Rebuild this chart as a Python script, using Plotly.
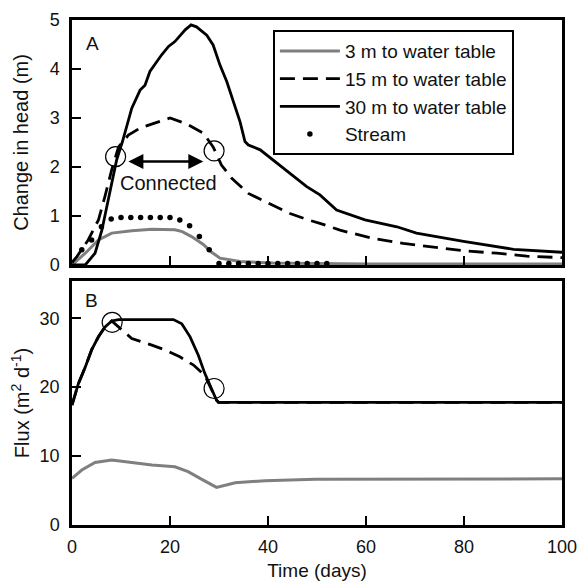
import plotly.graph_objects as go

# ---------------- data ----------------
# Panel A: change in head (m)
days_3m = [0, 2.7, 5.4, 8.1, 12.2, 16.3, 21.0, 22.5, 24.4, 26.8, 28.5, 30.2, 34.3, 41, 50, 60, 100]
head_3m = [0, 0.24, 0.51, 0.65, 0.70, 0.73, 0.72, 0.68, 0.58, 0.42, 0.26, 0.14, 0.07, 0.04, 0.03, 0.02, 0.02]

days_15m = [0, 1, 3.3, 5.4, 6.7, 8.1, 9.5, 11.5, 14.0, 16.9, 20.0, 23.4, 26.8, 28.8, 30.5, 32.6,
            36.0, 38.7, 42.1, 44.5, 48.2, 50.6, 54.7, 61.5, 67.6, 73.7, 79.9, 86.7, 92.8, 100]
head_15m = [0.05, 0.17, 0.51, 0.92, 1.39, 1.94, 2.41, 2.65, 2.8, 2.9, 3.0, 2.88, 2.69, 2.41, 2.04, 1.77,
            1.46, 1.33, 1.16, 1.05, 0.92, 0.85, 0.71, 0.54, 0.44, 0.36, 0.29, 0.24, 0.18, 0.15]

days_30m = [0, 2.7, 4.7, 6.1, 7.1, 8.1, 9.1, 10.3, 11.2, 12.2, 13.9, 14.9, 15.9, 18.3, 19.7, 21.0,
            23.1, 24.3, 25.4, 27.5, 28.8, 30.2, 31.6, 32.9, 34.3, 35.3, 36.0, 38.4, 41.1, 44.5,
            47.9, 50.6, 54.0, 59.8, 66.3, 70.3, 79.9, 90.1, 100]
head_30m = [0, 0, 0.24, 0.71, 1.19, 1.67, 2.14, 2.52, 2.86, 3.2, 3.57, 3.67, 3.95, 4.29, 4.46, 4.56,
            4.8, 4.9, 4.86, 4.69, 4.49, 4.08, 3.74, 3.33, 2.92, 2.52, 2.45, 2.35, 2.14, 1.87,
            1.6, 1.43, 1.12, 0.92, 0.78, 0.65, 0.48, 0.32, 0.26]

days_stream = [2, 4, 6, 8, 10, 12, 14, 16, 18, 20, 22, 24, 26, 28, 30, 32, 34, 36, 38, 40,
               42, 44, 46, 48, 50, 52]
head_stream = [0.31, 0.51, 0.78, 0.94, 0.97, 0.97, 0.97, 0.97, 0.97, 0.97, 0.92, 0.80, 0.58, 0.31,
               0.03, 0.03, 0.03, 0.03, 0.03, 0.03, 0.03, 0.03, 0.03, 0.03, 0.03, 0.03]

circle_days_a = [8.9, 29.0]
circle_head_a = [2.21, 2.33]

# Panel B: flux (m2/d)
days_3m_b = [0, 2, 4.7, 8.1, 12.2, 16.3, 21, 23.7, 26.5, 29.5, 33.3, 39.4, 49.6, 60, 75, 100]
flux_3m_b = [6.76, 7.97, 9.08, 9.42, 9.08, 8.7, 8.45, 7.73, 6.62, 5.46, 6.14, 6.43, 6.62, 6.62, 6.68, 6.7]

days_15m_b = [0, 1.3, 2.7, 4.0, 5.4, 6.7, 8.1, 12.2, 16.3, 19.0, 22.0, 24.8, 27.1, 29.5, 29.9, 100]
flux_15m_b = [17.4, 20.5, 22.9, 25.4, 27.3, 28.7, 29.6, 27.05, 26.1, 25.4, 24.4, 23.2, 21.7, 18.1, 17.8, 17.8]

days_30m_b = [0, 1.3, 2.7, 4.0, 5.4, 6.7, 8.1, 9.5, 20.7, 22.4, 24.1, 25.8, 27.1, 28.5, 29.5, 29.9, 100]
flux_30m_b = [17.4, 20.5, 22.9, 25.4, 27.3, 28.7, 29.6, 29.8, 29.8, 29.2, 27.3, 24.6, 22.0, 19.6, 18.1, 17.8, 17.8]

circle_days_b = [8.2, 29.0]
circle_flux_b = [29.4, 19.8]

names = ["3 m to water table", "15 m to water table", "30 m to water table", "Stream"]
x_ticks = [0, 20, 40, 60, 80, 100]
y_ticks_a = [0, 1, 2, 3, 4, 5]
y_ticks_b = [0, 10, 20, 30]

# ---------------- figure ----------------
FONT = "Arial, Liberation Sans, sans-serif"
GRAY = "#7f7f7f"
DASH = "15px,8px"
TXT = "#111111"

fig = go.Figure()

# Panel A traces
fig.add_trace(go.Scatter(x=days_3m, y=head_3m, mode="lines", name=names[0],
                         line=dict(color=GRAY, width=3), xaxis="x", yaxis="y"))
fig.add_trace(go.Scatter(x=days_15m, y=head_15m, mode="lines", name=names[1],
                         line=dict(color="black", width=2.8, dash=DASH), xaxis="x", yaxis="y"))
fig.add_trace(go.Scatter(x=days_30m, y=head_30m, mode="lines", name=names[2],
                         line=dict(color="black", width=2.8), xaxis="x", yaxis="y"))
fig.add_trace(go.Scatter(x=days_stream, y=head_stream, mode="markers", name=names[3],
                         marker=dict(color="black", size=5.5), xaxis="x", yaxis="y"))
fig.add_trace(go.Scatter(x=circle_days_a, y=circle_head_a, mode="markers", showlegend=False,
                         marker=dict(symbol="circle-open", size=20, color="black",
                                     line=dict(width=1.2)),
                         xaxis="x", yaxis="y"))

# Panel B traces
fig.add_trace(go.Scatter(x=days_3m_b, y=flux_3m_b, mode="lines", showlegend=False,
                         line=dict(color=GRAY, width=3), xaxis="x2", yaxis="y2"))
fig.add_trace(go.Scatter(x=days_15m_b, y=flux_15m_b, mode="lines", showlegend=False,
                         line=dict(color="black", width=2.8, dash=DASH), xaxis="x2", yaxis="y2"))
fig.add_trace(go.Scatter(x=days_30m_b, y=flux_30m_b, mode="lines", showlegend=False,
                         line=dict(color="black", width=2.8), xaxis="x2", yaxis="y2"))
fig.add_trace(go.Scatter(x=circle_days_b, y=circle_flux_b, mode="markers", showlegend=False,
                         marker=dict(symbol="circle-open", size=20, color="black",
                                     line=dict(width=1.2)),
                         xaxis="x2", yaxis="y2"))

axis_common = dict(showline=True, mirror=True, linecolor="black", linewidth=2.5,
                   ticks="inside", ticklen=9, tickwidth=2, tickcolor="black",
                   showgrid=False, zeroline=False, automargin=False,
                   tickfont=dict(family=FONT, size=18, color=TXT))

# the page body adds an 8px offset, so the figure is sized 579x576
fig.update_layout(
    width=579, height=576,
    margin=dict(l=64, r=25, t=12, b=59, autoexpand=False),
    plot_bgcolor="white", paper_bgcolor="white",
    font=dict(family=FONT, size=18, color=TXT),
    xaxis=dict(domain=[0, 1], range=[0, 100], tickvals=x_ticks, showticklabels=False,
               anchor="y", **axis_common),
    yaxis=dict(domain=[0.5149, 1], range=[0, 5], tickvals=y_ticks_a, anchor="x",
               title=dict(text="Change in head (m)", font=dict(size=20), standoff=16),
               ticklabelstandoff=6, **axis_common),
    xaxis2=dict(domain=[0, 1], range=[0, 100], tickvals=x_ticks, anchor="y2",
                title=dict(text="Time (days)", font=dict(size=19), standoff=8),
                ticklabelstandoff=4, **axis_common),
    yaxis2=dict(domain=[0, 0.4832], range=[0, 35.4], tickvals=y_ticks_b, anchor="x2",
                title=dict(text="Flux (m<sup>2</sup> d<sup>-1</sup>)", font=dict(size=20), standoff=16),
                ticklabelstandoff=6, **axis_common),
    legend=dict(x=0.410, y=0.980, xanchor="left", yanchor="top",
                bgcolor="white", bordercolor="black", borderwidth=2,
                font=dict(family=FONT, size=19, color=TXT),
                itemwidth=60, entrywidth=208, entrywidthmode="pixels"),
    showlegend=True,
)

fig.add_annotation(x=26.8, y=2.11, ax=11.2, ay=2.11, xref="x", yref="y", axref="x", ayref="y",
                   text="", showarrow=True, arrowhead=2, arrowside="end+start",
                   arrowsize=1.2, arrowwidth=2.5, arrowcolor="black")
fig.add_annotation(x=19.6, y=1.68, xref="x", yref="y", text="Connected", showarrow=False,
                   font=dict(family=FONT, size=20, color=TXT))
fig.add_annotation(x=4.1, y=4.53, xref="x", yref="y", text="A", showarrow=False,
                   font=dict(family=FONT, size=19, color=TXT))
fig.add_annotation(x=3.9, y=32.6, xref="x2", yref="y2", text="B", showarrow=False,
                   font=dict(family=FONT, size=19, color=TXT))

fig.write_html("out.html")
